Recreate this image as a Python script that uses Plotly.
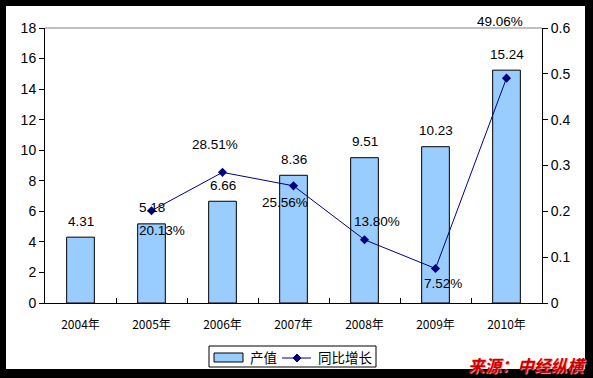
import plotly.graph_objects as go

# ---- data ----
categories = ["2004年", "2005年", "2006年", "2007年", "2008年", "2009年", "2010年"]
output_values = [4.31, 5.18, 6.66, 8.36, 9.51, 10.23, 15.24]
growth_rates = [None, 0.2013, 0.2851, 0.2556, 0.1380, 0.0752, 0.4906]
growth_labels = [None, "20.13%", "28.51%", "25.56%", "13.80%", "7.52%", "49.06%"]
left_ticks = [0, 2, 4, 6, 8, 10, 12, 14, 16, 18]
right_ticks = [0, 0.1, 0.2, 0.3, 0.4, 0.5, 0.6]
series_names = ["产值", "同比增长"]
source_text = "来源：中经纵横"

# ---- style: pixel offsets for growth labels (x, y; y up positive) ----
growth_label_shift = [None, (10, -20), (-8, 28), (-9, -17), (12, 18), (7, -15), (-7, 57)]

W, H = 593, 378
ML, MR, MT, MB = 45, 51, 28, 75
PW, PH = W - ML - MR, H - MT - MB

BAR_COLOR = "#99CCFF"
LINE_COLOR = "#000080"


def px_x(p):
    return (p - ML) / PW


def px_y(p):
    return (H - MB - p) / PH


LABEL_FONT = dict(family="Liberation Sans, Arial, sans-serif", size=13.5, color="black")
CJK_FONT = dict(family="Noto Sans CJK SC", size=13.5, color="black")

fig = go.Figure()
fig.add_trace(go.Bar(
    x=categories, y=output_values, name=series_names[0],
    marker=dict(color=BAR_COLOR, line=dict(color="black", width=1)),
    yaxis="y", hoverinfo="skip",
))
fig.add_trace(go.Scatter(
    x=categories, y=growth_rates, name=series_names[1], mode="lines+markers",
    line=dict(color=LINE_COLOR, width=1),
    marker=dict(symbol="diamond", size=7, color=LINE_COLOR),
    yaxis="y2", hoverinfo="skip",
))

annotations = []
for c, v in zip(categories, output_values):
    annotations.append(dict(x=c, y=v, xref="x", yref="y", text=f"{v:.2f}",
                            showarrow=False, yshift=16, yanchor="middle",
                            font=LABEL_FONT))
for c, g, lab, sh in zip(categories, growth_rates, growth_labels, growth_label_shift):
    if g is None:
        continue
    annotations.append(dict(x=c, y=g, xref="x", yref="y2", text=lab,
                            showarrow=False, xshift=sh[0], yshift=sh[1],
                            yanchor="middle", font=LABEL_FONT))

# legend texts (manual legend)
annotations.append(dict(x=px_x(248), y=px_y(357), xref="paper", yref="paper",
                        text=series_names[0], showarrow=False, xanchor="left",
                        yanchor="middle", font=CJK_FONT))
annotations.append(dict(x=px_x(316), y=px_y(357), xref="paper", yref="paper",
                        text=series_names[1], showarrow=False, xanchor="left",
                        yanchor="middle", font=CJK_FONT))

# source note
annotations.append(dict(
    x=px_x(588), y=px_y(365), xref="paper", yref="paper",
    text="<b>" + source_text + "</b>", showarrow=False, xanchor="right", yanchor="middle",
    font=dict(family="Noto Sans CJK SC", size=16.5, color="#cc0000", style="italic",
              shadow="1px 1px 1px #f4a0a0"),
))

# diamond legend marker path
dcx, dcy, dr = 297, 358, 4
diamond = "M {x0},{y0} L {x1},{y1} L {x2},{y2} L {x3},{y3} Z".format(
    x0=px_x(dcx), y0=px_y(dcy - dr), x1=px_x(dcx + dr), y1=px_y(dcy),
    x2=px_x(dcx), y2=px_y(dcy + dr), x3=px_x(dcx - dr), y3=px_y(dcy))

shapes = [
    dict(type="rect", xref="paper", yref="paper", layer="below",
         x0=px_x(6), x1=px_x(585), y0=px_y(369), y1=px_y(6),
         fillcolor="white", line=dict(width=0)),
    dict(type="line", xref="paper", yref="paper", x0=0, x1=1, y0=1, y1=1,
         line=dict(color="#808080", width=1)),
    # legend box
    dict(type="rect", xref="paper", yref="paper",
         x0=px_x(209), x1=px_x(376), y0=px_y(367), y1=px_y(346),
         fillcolor="white", line=dict(color="black", width=1)),
    # bar swatch
    dict(type="rect", xref="paper", yref="paper",
         x0=px_x(214), x1=px_x(243), y0=px_y(362), y1=px_y(353),
         fillcolor=BAR_COLOR, line=dict(color="black", width=1)),
    # line swatch
    dict(type="line", xref="paper", yref="paper",
         x0=px_x(282), x1=px_x(311), y0=px_y(358), y1=px_y(358),
         line=dict(color=LINE_COLOR, width=1)),
    dict(type="path", xref="paper", yref="paper", path=diamond,
         fillcolor=LINE_COLOR, line=dict(color=LINE_COLOR, width=1)),
]

fig.update_layout(
    width=W, height=H,
    margin=dict(l=ML, r=MR, t=MT, b=MB, pad=0),
    paper_bgcolor="black", plot_bgcolor="white",
    bargap=0.61,
    showlegend=False,
    xaxis=dict(showline=True, linecolor="black", linewidth=1, showgrid=False,
               ticks="inside", tickson="boundaries", ticklen=5, tickcolor="black",
               ticklabelstandoff=11,
               tickfont=dict(family="Noto Sans CJK SC", size=12, color="black"),
               fixedrange=True),
    yaxis=dict(range=[0, 18], tickvals=left_ticks, showline=True, linecolor="black",
               linewidth=1, showgrid=False, ticks="outside", ticklen=5, tickcolor="black",
               tickfont=dict(family="Liberation Sans, Arial, sans-serif", size=14, color="black"),
               zeroline=False),
    yaxis2=dict(range=[0, 0.6], tickvals=right_ticks, overlaying="y", side="right",
                showline=True, linecolor="black", linewidth=1, showgrid=False,
                ticks="outside", ticklen=5, tickcolor="black",
                tickfont=dict(family="Liberation Sans, Arial, sans-serif", size=14, color="black"),
                zeroline=False),
    annotations=annotations,
    shapes=shapes,
)

fig.write_html("out.html", config={"displayModeBar": False},
               post_script="document.body.style.margin='0';")
